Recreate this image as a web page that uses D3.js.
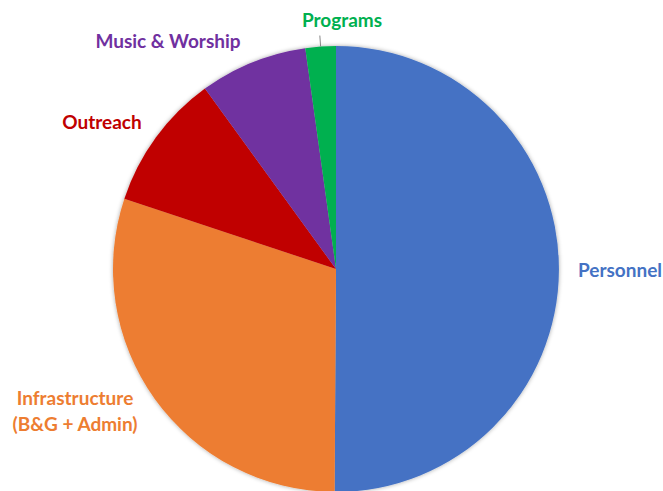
<!DOCTYPE html>
<html>
<head>
<meta charset="utf-8">
<script src="https://cdn.jsdelivr.net/npm/d3@7"></script>
<style>
  body { margin: 0; background: #fff; }
  text { font-family: Lato, "Open Sans", sans-serif; font-weight: bold; }
</style>
</head>
<body>
<svg width="663" height="491"></svg>
<script>
const categories = ['Personnel', 'Infrastructure', 'Outreach', 'Music & Worship', 'Programs']
const values = [50.1, 30.0, 9.9, 7.8, 2.2]
const colors = ['#4472C4', '#ED7D31', '#C00000', '#7030A0', '#00B050']

const width = 663
const height = 491
const cx = 336
const cy = 269
const radius = 223

const svg = d3.select('svg')

const defs = svg.append('defs')
const shadow = defs.append('filter').attr('id', 'shadow')
  .attr('x', '-10%').attr('y', '-10%').attr('width', '120%').attr('height', '120%')
shadow.append('feDropShadow')
  .attr('dx', 0).attr('dy', 0).attr('stdDeviation', 2)
  .attr('flood-color', '#000').attr('flood-opacity', 0.35)

const data = categories.map((c, i) => ({ name: c, value: values[i], color: colors[i] }))

const pie = d3.pie().sort(null).value(d => d.value)
const arc = d3.arc().innerRadius(0).outerRadius(radius)
const arcs = pie(data)

const g = svg.append('g').attr('transform', `translate(${cx},${cy})`)

g.append('g').attr('filter', 'url(#shadow)')
  .selectAll('path')
  .data(arcs)
  .join('path')
  .attr('d', arc)
  .attr('fill', d => d.data.color)

// label placement (text centre relative to pie centre), plus line breaks
const labelLayout = {
  'Personnel': { dx: 284, dy: 8, lines: ['Personnel'] },
  'Infrastructure': { dx: -261, dy: 149, lines: ['Infrastructure', '(B&G + Admin)'] },
  'Outreach': { dx: -234, dy: -140, lines: ['Outreach'] },
  'Music & Worship': { dx: -168, dy: -221, lines: ['Music & Worship'] },
  'Programs': { dx: 6, dy: -242, lines: ['Programs'] }
}

// leader line for the thin slice
const prog = arcs.find(d => d.data.name === 'Programs')
const mid = (prog.startAngle + prog.endAngle) / 2
g.append('line')
  .attr('x1', Math.sin(mid) * radius).attr('y1', -Math.cos(mid) * radius)
  .attr('x2', Math.sin(mid) * (radius + 11)).attr('y2', -Math.cos(mid) * (radius + 11))
  .attr('stroke', '#888').attr('stroke-width', 1)

arcs.forEach(d => {
  const l = labelLayout[d.data.name]
  const t = g.append('text')
    .attr('text-anchor', 'middle')
    .attr('fill', d.data.color)
    .attr('font-size', 19)
  l.lines.forEach((line, i) => {
    t.append('tspan')
      .attr('x', l.dx)
      .attr('y', l.dy + (i - (l.lines.length - 1) / 2) * 26)
      .text(line)
  })
})
</script>
</body>
</html>
